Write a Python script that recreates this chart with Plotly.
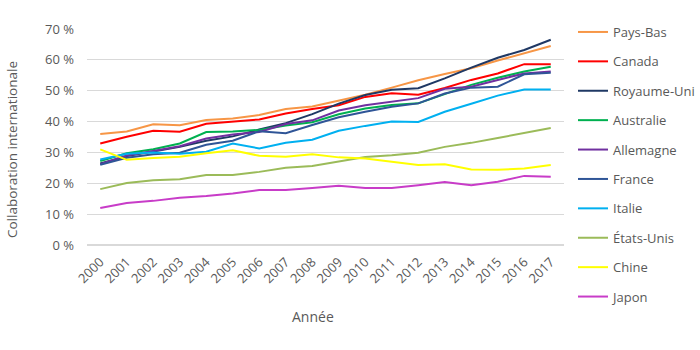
import plotly.graph_objects as go

years = [str(y) for y in range(2000, 2018)]

pays_bas = [36.0, 36.8, 39.1, 38.8, 40.5, 41.0, 42.1, 44.1, 44.9, 46.9, 48.7, 51.0, 53.4, 55.4, 57.3, 59.8, 62.1, 64.5]
canada = [32.9, 35.1, 37.0, 36.7, 39.3, 40.0, 40.7, 42.6, 44.1, 45.3, 48.0, 49.2, 48.7, 50.9, 53.5, 55.6, 58.6, 58.6]
royaume_uni = [26.4, 28.8, 30.3, 31.8, 33.8, 35.2, 37.4, 39.5, 42.4, 45.8, 48.6, 50.3, 50.8, 54.0, 57.5, 60.7, 63.2, 66.5]
australie = [27.2, 29.7, 31.0, 32.9, 36.6, 36.8, 37.3, 38.7, 39.8, 42.4, 44.2, 45.4, 45.9, 48.8, 51.9, 54.2, 56.2, 57.8]
allemagne = [26.2, 29.0, 30.5, 32.0, 34.5, 35.8, 36.6, 39.2, 40.4, 43.6, 45.3, 46.5, 47.6, 50.6, 51.3, 53.5, 55.6, 56.2]
france = [26.0, 28.3, 29.4, 29.9, 32.5, 33.8, 36.9, 36.2, 38.9, 41.4, 43.2, 44.8, 45.9, 49.1, 51.0, 51.3, 55.3, 55.8]
italie = [27.7, 29.6, 30.0, 29.6, 30.2, 32.9, 31.3, 33.1, 34.1, 37.0, 38.6, 40.0, 39.9, 43.2, 45.8, 48.4, 50.4, 50.4]
etats_unis = [18.1, 20.1, 21.0, 21.3, 22.7, 22.7, 23.7, 25.0, 25.6, 27.0, 28.5, 29.1, 29.9, 31.8, 33.1, 34.7, 36.4, 37.9]
chine = [31.0, 27.6, 28.2, 28.6, 29.7, 30.7, 28.9, 28.6, 29.4, 28.4, 28.0, 27.0, 25.9, 26.2, 24.5, 24.4, 24.8, 25.9]
japon = [12.0, 13.6, 14.3, 15.3, 15.9, 16.7, 17.8, 17.8, 18.5, 19.2, 18.5, 18.5, 19.4, 20.4, 19.4, 20.5, 22.4, 22.1]

series_names = ["Pays-Bas", "Canada", "Royaume-Uni", "Australie", "Allemagne",
                "France", "Italie", "États-Unis", "Chine", "Japon"]
series_values = [pays_bas, canada, royaume_uni, australie, allemagne,
                 france, italie, etats_unis, chine, japon]
series_colors = ["#F79646", "#FF0000", "#1F3864", "#00B050", "#7030A0",
                 "#2F5597", "#00B0F0", "#9BBB59", "#FFFF00", "#C83CC8"]

y_tickvals = [0, 10, 20, 30, 40, 50, 60, 70]
y_ticktext = ["0 %", "10 %", "20 %", "30 %", "40 %", "50 %", "60 %", "70 %"]

FONT = "Open Sans"
GREY = "#595959"

fig = go.Figure()
for name, vals, col in zip(series_names, series_values, series_colors):
    fig.add_trace(go.Scatter(x=years, y=vals, mode="lines", name=name,
                             legendgroup=name,
                             line=dict(color=col, width=2)))

W, H = 700, 350
L, R, T, B = 87, 136, 29, 105

fig.update_layout(
    width=W, height=H,
    margin=dict(l=L, r=R, t=T, b=B, autoexpand=False),
    paper_bgcolor="white", plot_bgcolor="white",
    font=dict(family=FONT, size=12, color=GREY),
    showlegend=True,
    legend=dict(x=(573 - L) / (W - L - R), xanchor="left",
                y=1 + (T - 17) / (H - T - B), yanchor="top",
                font=dict(family=FONT, size=13, color=GREY),
                tracegroupgap=9.5, itemwidth=30, maxheight=345,
                bgcolor="rgba(0,0,0,0)"),
    xaxis=dict(type="category", tickangle=-45, showgrid=False,
               range=[-0.5, len(years) - 0.5],
               showline=False, ticks="", tickfont=dict(size=13, color=GREY),
               ticklabelstandoff=6, zeroline=False),
    yaxis=dict(range=[0, 70], tickvals=y_tickvals, ticktext=y_ticktext,
               showgrid=True, gridcolor="#D9D9D9", gridwidth=1,
               zeroline=True, zerolinecolor="#D9D9D9", zerolinewidth=2,
               showline=False, ticks="", ticklabelstandoff=12,
               tickfont=dict(size=13, color=GREY)),
    annotations=[
        dict(text="Année", xref="paper", yref="paper",
             x=(313 - L) / (W - L - R), y=-(316 - (H - B)) / (H - T - B),
             xanchor="center", yanchor="middle", showarrow=False,
             font=dict(family=FONT, size=14, color=GREY)),
        dict(text="Collaboration internationale", xref="paper", yref="paper",
             x=-(L - 12) / (W - L - R), y=1 - (150 - T) / (H - T - B),
             xanchor="center", yanchor="middle", textangle=-90, showarrow=False,
             font=dict(family=FONT, size=13.5, color=GREY)),
    ],
)

fig.write_html("out.html")
